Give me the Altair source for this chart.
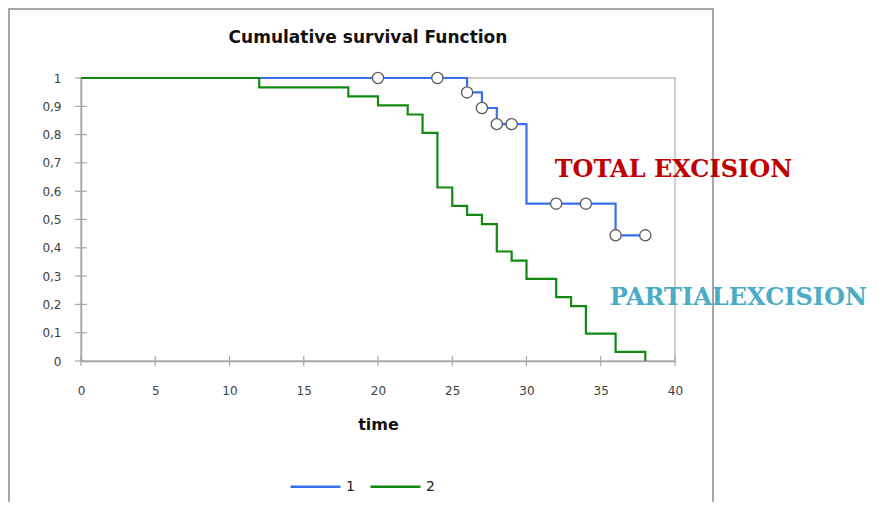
import altair as alt
import pandas as pd

# ---- data ----
blue_time = [0, 26, 27, 28, 30, 36, 38]
blue_surv = [1.0, 0.949, 0.894, 0.837, 0.556, 0.444, 0.444]
blue_cens_time = [20, 24, 26, 27, 28, 29, 32, 34, 36, 38]
blue_cens_surv = [1.0, 1.0, 0.949, 0.894, 0.837, 0.837, 0.556, 0.556, 0.444, 0.444]
green_time = [0, 12, 18, 20, 22, 23, 24, 25, 26, 27, 28, 29, 30, 32, 33, 34, 36, 38]
green_surv = [1.0, 0.967, 0.935, 0.903, 0.871, 0.806, 0.613, 0.548, 0.516, 0.484,
              0.387, 0.355, 0.290, 0.226, 0.194, 0.097, 0.032, 0.0]
x_ticks = [0, 5, 10, 15, 20, 25, 30, 35, 40]
y_ticks = [0, 0.1, 0.2, 0.3, 0.4, 0.5, 0.6, 0.7, 0.8, 0.9, 1]
ann_text = ["TOTAL EXCISION", "PARTIALEXCISION"]
ann_x = [31.9, 35.6]
ann_y = [0.675, 0.223]
ann_color = ["#C00000", "#4BACC6"]
chart_title = "Cumulative survival Function"

lines = pd.concat([
    pd.DataFrame({"time": blue_time, "surv": blue_surv, "group": "1"}),
    pd.DataFrame({"time": green_time, "surv": green_surv, "group": "2"}),
], ignore_index=True)
cens = pd.DataFrame({"time": blue_cens_time, "surv": blue_cens_surv})
xt = pd.DataFrame({"v": x_ticks})
yt = pd.DataFrame({"v": y_ticks})
ann = pd.DataFrame({"text": ann_text, "x": ann_x, "y": ann_y, "c": ann_color})

W, H = 594, 283
xs = alt.Scale(domain=[0, 40], nice=False)
ys = alt.Scale(domain=[0, 1], nice=False)

ylab = ("datum.value == 0 || datum.value == 1 ? format(datum.value, 'd') : "
        "replace(format(datum.value, '.1f'), '.', ',')")

xaxis = alt.Axis(values=x_ticks, grid=False, ticks=False, labelPadding=24,
                 labelOverlap=False, labelFlush=False,
                 domainColor="#A6A6A6", domainWidth=1.5,
                 labelFont="DejaVu Sans", labelFontSize=12, labelColor="#404040",
                 titleFont="DejaVu Sans", titleFontSize=16, titleFontWeight="bold",
                 titleColor="#111111", titlePadding=20)
yaxis = alt.Axis(values=y_ticks, grid=False, ticks=False, labelPadding=20,
                 labelOverlap=False, labelFlush=False,
                 labelExpr=ylab, domainColor="#A6A6A6", domainWidth=1.5,
                 labelFont="DejaVu Sans", labelFontSize=12, labelColor="#404040")


def X(f):
    return alt.X(f, scale=xs, axis=xaxis, title="time")


def Y(f):
    return alt.Y(f, scale=ys, axis=yaxis, title=None)


one = pd.DataFrame({"t": [chart_title]})
frame = alt.Chart(one).mark_rect(
    fill=None, stroke="#A6A6A6", strokeWidth=2
).encode(x=alt.value(-72), x2=alt.value(632), y=alt.value(-69), y2=alt.value(600))

title = alt.Chart(one).mark_text(font="DejaVu Sans", fontSize=17, fontWeight="bold",
                                 color="#111111", align="center", baseline="middle").encode(
    x=alt.value(W / 2 - 10), y=alt.value(-40), text="t:N")

line = alt.Chart(lines).mark_line(interpolate="step-after", strokeWidth=2.2).encode(
    x=X("time:Q"),
    y=Y("surv:Q"),
    color=alt.Color("group:N",
                    scale=alt.Scale(domain=["1", "2"], range=["#3A6FF0", "#128A12"]),
                    legend=alt.Legend(title=None, orient="none", legendX=208, legendY=382,
                                      direction="horizontal", symbolType="stroke",
                                      symbolSize=2500, symbolStrokeWidth=2.5,
                                      labelFont="DejaVu Sans", labelFontSize=14,
                                      labelColor="#222222", labelOffset=4,
                                      columnPadding=10)),
    order=alt.Order("group:N"),
)

xtick = alt.Chart(xt).mark_rule(color="#A6A6A6", strokeWidth=1.2).encode(
    x=X("v:Q"), y=alt.value(H - 5), y2=alt.value(H + 5))
ytick = alt.Chart(yt).mark_rule(color="#A6A6A6", strokeWidth=1.2).encode(
    y=Y("v:Q"), x=alt.value(-6), x2=alt.value(6))

pts = alt.Chart(cens).mark_point(shape="circle", filled=False, fill="white", fillOpacity=1,
                                 stroke="#5A5A5A", strokeWidth=1.3, size=125, opacity=1).encode(
    x=X("time:Q"), y=Y("surv:Q"))

labels = alt.Chart(ann).mark_text(align="left", baseline="middle", font="DejaVu Serif",
                                  fontWeight="bold", fontSize=24).encode(
    x=X("x:Q"), y=Y("y:Q"),
    text="text:N", color=alt.Color("c:N", scale=None))

chart = alt.layer(frame, title, xtick, ytick, line, pts, labels).properties(
    width=W, height=H,
    autosize=alt.AutoSizeParams(type="none"),
    padding={"left": 73, "top": 70, "right": 194, "bottom": 141},
).configure_view(stroke="#BDBDBD", strokeWidth=1.5)

chart.save("out.html", embed_options={"renderer": "svg", "actions": False})
